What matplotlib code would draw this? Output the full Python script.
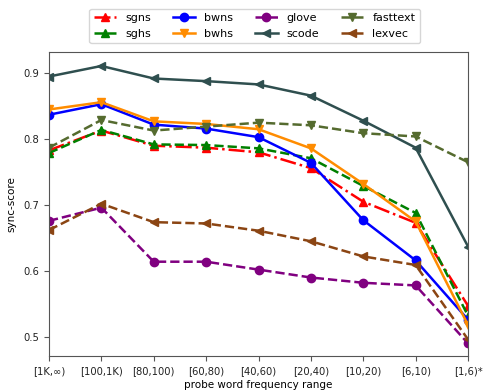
import matplotlib
matplotlib.use("Agg")
import matplotlib.pyplot as plt

categories = ["[1K,∞)", "[100,1K)", "[80,100)", "[60,80)", "[40,60)",
              "[20,40)", "[10,20)", "[6,10)", "[1,6)*"]

sgns = [0.783, 0.813, 0.790, 0.787, 0.780, 0.756, 0.705, 0.673, 0.547]
sghs = [0.779, 0.814, 0.792, 0.791, 0.786, 0.771, 0.729, 0.688, 0.532]
bwns = [0.837, 0.853, 0.822, 0.816, 0.803, 0.764, 0.677, 0.616, 0.526]
bwhs = [0.845, 0.856, 0.827, 0.823, 0.815, 0.786, 0.732, 0.675, 0.518]
glove = [0.676, 0.696, 0.614, 0.614, 0.602, 0.590, 0.582, 0.578, 0.490]
scode = [0.895, 0.911, 0.892, 0.888, 0.883, 0.866, 0.828, 0.787, 0.637]
fasttext = [0.787, 0.829, 0.813, 0.819, 0.825, 0.821, 0.809, 0.804, 0.765]
lexvec = [0.662, 0.702, 0.674, 0.672, 0.661, 0.645, 0.622, 0.609, 0.496]

series = [
    ("sgns", sgns, "red", "-.", "^"),
    ("sghs", sghs, "green", "--", "^"),
    ("bwns", bwns, "blue", "-", "o"),
    ("bwhs", bwhs, "darkorange", "-", "v"),
    ("glove", glove, "purple", "--", "o"),
    ("scode", scode, "darkslategray", "-", "<"),
    ("fasttext", fasttext, "darkolivegreen", "--", "v"),
    ("lexvec", lexvec, "saddlebrown", "--", "<"),
]

plt.rcParams["font.size"] = 8
fig = plt.figure(figsize=(4.85, 3.92), dpi=100)
ax = fig.add_axes([0.101, 0.092, 0.864, 0.775])
x = list(range(len(categories)))
for name, vals, color, ls, mk in series:
    ax.plot(x, vals, color=color, linestyle=ls, marker=mk, linewidth=1.8,
            markersize=6, label=name)

ax.set_xlim(0, len(categories) - 1)
ax.set_ylim(0.471, 0.932)
ax.set_xticks(x)
ax.set_xticklabels(categories)
ax.set_yticks([0.5, 0.6, 0.7, 0.8, 0.9])
ax.set_xlabel("probe word frequency range", fontsize=7.5, labelpad=3)
ax.set_ylabel("sync-score", fontsize=7.5, labelpad=5)
for s in ax.spines.values():
    s.set_color("#555555")
ax.tick_params(colors="#555555", labelcolor="#222222", length=3.5,
               labelsize=7.2)

fig.legend(loc="upper center", bbox_to_anchor=(0.525, 0.992), ncol=4,
           handlelength=2, columnspacing=2.0)
fig.savefig("out.png", dpi=100)
